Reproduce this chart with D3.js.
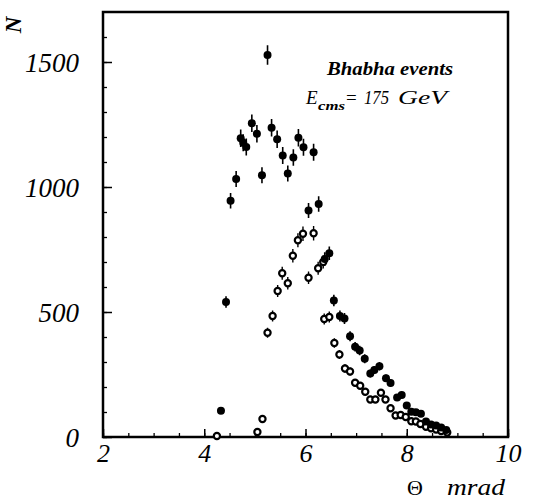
<!DOCTYPE html>
<html>
<head>
<meta charset="utf-8">
<script src="https://cdn.jsdelivr.net/npm/d3@7"></script>
<style>
  body { margin: 0; background: #fff; }
  text { font-family: "Liberation Serif", "DejaVu Serif", serif; fill: #000; }
</style>
</head>
<body>
<div class="container"></div>
<script>
// filled points (with error bars)
const fullTheta = [4.33, 4.43, 4.52, 4.63, 4.72, 4.77, 4.83, 4.94, 5.04, 5.14, 5.25, 5.33, 5.44, 5.55, 5.65, 5.76, 5.86, 5.96, 6.06, 6.16, 6.26, 6.38, 6.47, 6.56, 6.68, 6.77, 6.88, 6.98, 7.07, 7.17, 7.28, 7.36, 7.46, 7.59, 7.68, 7.81, 7.90, 8.00, 8.09, 8.18, 8.28, 8.38, 8.48, 8.58, 8.68, 8.78];
const fullN     = [105, 540, 945, 1032, 1195, 1177, 1160, 1255, 1213, 1047, 1528, 1237, 1191, 1126, 1054, 1118, 1197, 1159, 906, 1139, 932, 712, 735, 546, 484, 474, 403, 361, 346, 313, 254, 268, 283, 235, 216, 158, 168, 126, 101, 99, 93, 62, 50, 46, 38, 28];
const fullErr   = [10, 23, 31, 32, 35, 34, 34, 35, 35, 32, 39, 35, 35, 34, 32, 33, 35, 34, 30, 34, 31, 27, 27, 23, 22, 22, 20, 19, 19, 18, 16, 16, 17, 15, 15, 13, 13, 11, 10, 10, 10, 8, 7, 7, 6, 5];

// open points
const openTheta = [4.25, 5.05, 5.15, 5.25, 5.35, 5.45, 5.54, 5.65, 5.75, 5.85, 5.95, 6.06, 6.16, 6.25, 6.35, 6.37, 6.47, 6.57, 6.67, 6.78, 6.88, 6.98, 7.08, 7.18, 7.28, 7.38, 7.49, 7.58, 7.68, 7.78, 7.88, 7.98, 8.09, 8.18, 8.27, 8.38, 8.48, 8.58, 8.68, 8.80];
const openN     = [4, 20, 72, 417, 484, 584, 655, 615, 725, 787, 813, 637, 815, 675, 700, 472, 480, 376, 330, 274, 262, 217, 205, 181, 150, 150, 177, 150, 115, 86, 88, 80, 63, 62, 52, 41, 35, 30, 24, 18];
const openErr   = [2, 4, 8, 20, 22, 24, 26, 25, 27, 28, 29, 25, 29, 26, 26, 22, 22, 19, 18, 17, 16, 15, 14, 13, 12, 12, 13, 12, 11, 9, 9, 9, 8, 8, 7, 6, 6, 5, 5, 4];

const xMajor = [2, 4, 6, 8, 10];
const yMajor = [0, 500, 1000, 1500];

const width = 533;
const height = 499;

const xScale = d3.scaleLinear().domain([2, 10]).range([103, 508]);
const yScale = d3.scaleLinear().domain([0, 1700]).range([437, 12]);

const svg = d3.select("div.container")
  .append("svg")
  .attr("width", width)
  .attr("height", height);

svg.append("rect").attr("width", width).attr("height", height).attr("fill", "#fff");

// minor ticks
const xMinor = d3.range(2, 10.01, 0.5);
const yMinor = d3.range(0, 1700, 100);

svg.append("g").attr("transform", `translate(0,${yScale(0)})`)
  .call(d3.axisBottom(xScale).tickValues(xMinor).tickSize(-4).tickFormat(""))
  .call(g => g.select(".domain").remove())
  .selectAll("line").attr("stroke-width", 1.3);

svg.append("g").attr("transform", `translate(${xScale(2)},0)`)
  .call(d3.axisLeft(yScale).tickValues(yMinor).tickSize(-4).tickFormat(""))
  .call(g => g.select(".domain").remove())
  .selectAll("line").attr("stroke-width", 1.3);

// major ticks + labels
const xAxis = svg.append("g").attr("transform", `translate(0,${yScale(0)})`)
  .call(d3.axisBottom(xScale).tickValues(xMajor).tickSize(-8).tickFormat(d3.format("d")))
  .call(g => g.select(".domain").remove());
xAxis.selectAll("line").attr("stroke-width", 1.5);
xAxis.selectAll("text")
  .attr("y", 25).attr("dy", 0)
  .style("font-size", "26px").style("font-style", "italic").style("font-family", "Liberation Serif");

const yAxis = svg.append("g").attr("transform", `translate(${xScale(2)},0)`)
  .call(d3.axisLeft(yScale).tickValues(yMajor).tickSize(-9).tickPadding(24).tickFormat(d3.format("d")))
  .call(g => g.select(".domain").remove());
yAxis.selectAll("line").attr("stroke-width", 1.5);
yAxis.selectAll("text")
  .attr("dy", "0.35em")
  .style("font-size", "27px").style("font-style", "italic").style("font-family", "Liberation Serif");

// frame
svg.append("rect")
  .attr("x", xScale(2)).attr("y", yScale(1700))
  .attr("width", xScale(10) - xScale(2)).attr("height", yScale(0) - yScale(1700))
  .attr("fill", "none").attr("stroke", "#000").attr("stroke-width", 2.5);

// data
const full = fullTheta.map((t, i) => ({ t, n: fullN[i], e: fullErr[i] }));
const open = openTheta.map((t, i) => ({ t, n: openN[i], e: openErr[i] }));

const plot = svg.append("g");

plot.selectAll("line.ferr").data(full).enter().append("line").attr("class", "ferr")
  .attr("x1", d => xScale(d.t)).attr("x2", d => xScale(d.t))
  .attr("y1", d => yScale(d.n + d.e)).attr("y2", d => yScale(Math.max(0, d.n - d.e)))
  .attr("stroke", "#000").attr("stroke-width", 1.6);

plot.selectAll("line.oerr").data(open).enter().append("line").attr("class", "oerr")
  .attr("x1", d => xScale(d.t)).attr("x2", d => xScale(d.t))
  .attr("y1", d => yScale(d.n + d.e)).attr("y2", d => yScale(Math.max(0, d.n - d.e)))
  .attr("stroke", "#000").attr("stroke-width", 1.4);

plot.selectAll("circle.open").data(open).enter().append("circle").attr("class", "open")
  .attr("cx", d => xScale(d.t)).attr("cy", d => yScale(d.n)).attr("r", 3.1)
  .attr("fill", "#fff").attr("stroke", "#000").attr("stroke-width", 2.2);

plot.selectAll("circle.full").data(full).enter().append("circle").attr("class", "full")
  .attr("cx", d => xScale(d.t)).attr("cy", d => yScale(d.n)).attr("r", 4)
  .attr("fill", "#000");

// labels
svg.append("text").attr("transform", "translate(21,25) rotate(-90)")
  .attr("text-anchor", "middle")
  .style("font-size", "23px").style("font-style", "italic").style("font-weight", "bold").text("N");

svg.append("text").attr("x", 407).attr("y", 495)
  .style("font-size", "22px").text("\u0398");
svg.append("text").attr("x", 447).attr("y", 495)
  .attr("textLength", 58).attr("lengthAdjust", "spacingAndGlyphs")
  .style("font-size", "23px").style("font-style", "italic").text("mrad");

svg.append("text").attr("x", 327).attr("y", 75)
  .attr("textLength", 126).attr("lengthAdjust", "spacingAndGlyphs")
  .style("font-size", "18px").style("font-style", "italic").style("font-weight", "bold")
  .text("Bhabha events");

svg.append("text").attr("x", 306).attr("y", 104)
  .style("font-size", "19px").style("font-style", "italic").text("E");
svg.append("text").attr("x", 318).attr("y", 110)
  .attr("textLength", 27).attr("lengthAdjust", "spacingAndGlyphs")
  .style("font-size", "12px").style("font-style", "italic").style("font-weight", "bold").text("cms");
svg.append("text").attr("x", 346).attr("y", 104)
  .style("font-size", "19px").text("=");
svg.append("text").attr("x", 364).attr("y", 104)
  .attr("textLength", 25).attr("lengthAdjust", "spacingAndGlyphs")
  .style("font-size", "19px").style("font-style", "italic").text("175");
svg.append("text").attr("x", 398).attr("y", 104)
  .attr("textLength", 49).attr("lengthAdjust", "spacingAndGlyphs")
  .style("font-size", "19px").style("font-style", "italic").text("GeV");
</script>
</body>
</html>
